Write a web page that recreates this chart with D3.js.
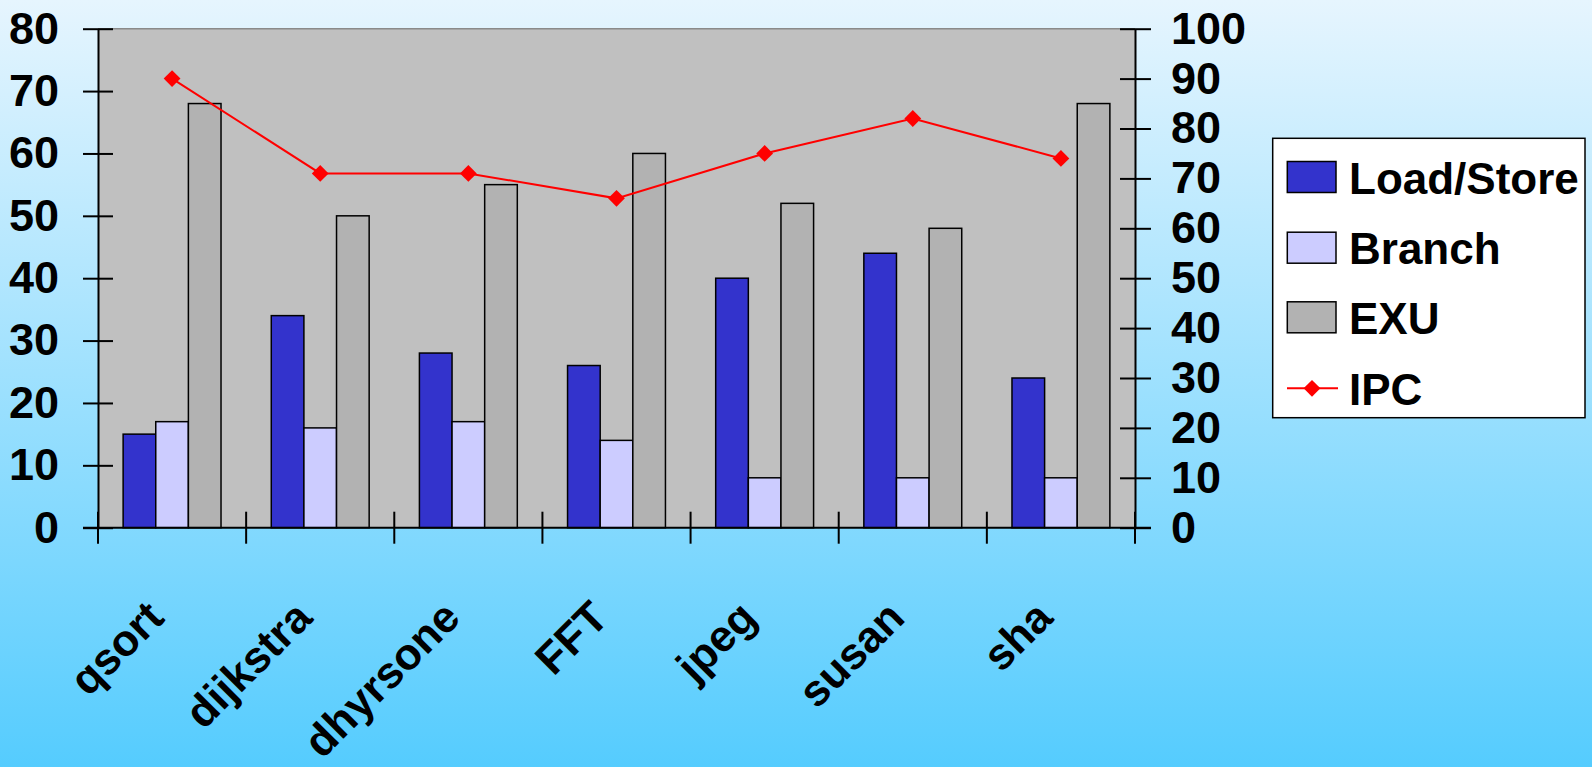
<!DOCTYPE html>
<html>
<head>
<meta charset="utf-8">
<script src="https://cdn.jsdelivr.net/npm/d3@7"></script>
<style>
  html, body { margin: 0; padding: 0; overflow: hidden; }
  svg { display: block; font-family: "Liberation Sans", Arial, sans-serif; font-weight: bold; }
</style>
</head>
<body>
<div class="chart"></div>
<script>
'use strict'

// Data.
const categories = ['qsort', 'dijkstra', 'dhyrsone', 'FFT', 'jpeg', 'susan', 'sha'];
const loadStore = [15, 34, 28, 26, 40, 44, 24];
const branch = [17, 16, 17, 14, 8, 8, 8];
const exu = [68, 50, 55, 60, 52, 48, 68];
const ipc = [90, 71, 71, 66, 75, 82, 74];
const leftTicks = [0, 10, 20, 30, 40, 50, 60, 70, 80];
const rightTicks = [0, 10, 20, 30, 40, 50, 60, 70, 80, 90, 100];
const seriesNames = ['Load/Store', 'Branch', 'EXU'];
const seriesColors = ['#3333cc', '#ccccff', '#b2b2b2'];

// Dimensions
const width = 1592,
    height = 767,
    plot = {left: 98, right: 1135, top: 28.7, bottom: 527.7},
    fontSize = 45;

const svg = d3.select('.chart')
    .append('svg')
        .attr('width', width)
        .attr('height', height);

// Background gradient.
const grad = svg.append('defs')
    .append('linearGradient')
        .attr('id', 'bg')
        .attr('x1', 0).attr('y1', 0)
        .attr('x2', 0).attr('y2', 1);
grad.append('stop').attr('offset', '0%').attr('stop-color', '#e6f5fe');
grad.append('stop').attr('offset', '100%').attr('stop-color', '#55ccfe');

svg.append('rect')
    .attr('width', width)
    .attr('height', height)
    .attr('fill', 'url(#bg)');

// Scales.
let x = d3.scaleBand()
    .domain(categories)
    .range([plot.left, plot.right]);

let x1 = d3.scaleBand()
    .domain(seriesNames)
    .range([0, x.bandwidth()])
    .paddingOuter(0.77);

let yL = d3.scaleLinear()
    .domain([0, 80])
    .range([plot.bottom, plot.top]);

let yR = d3.scaleLinear()
    .domain([0, 100])
    .range([plot.bottom, plot.top]);

// Plot area.
svg.append('rect')
    .attr('x', plot.left)
    .attr('y', plot.top)
    .attr('width', plot.right - plot.left)
    .attr('height', plot.bottom - plot.top)
    .attr('fill', '#c0c0c0');

svg.append('line')
    .attr('x1', plot.left).attr('x2', plot.right)
    .attr('y1', plot.top).attr('y2', plot.top)
    .attr('stroke', '#8a8a8a')
    .attr('stroke-width', 1.5);

// Bars.
const rows = categories.map((c, i) => ({
    category: c,
    values: [loadStore[i], branch[i], exu[i]]
}));

svg.append('g')
    .attr('class', 'bars')
    .selectAll('g')
    .data(rows)
    .join('g')
        .attr('transform', d => `translate(${x(d.category)},0)`)
    .selectAll('rect')
    .data(d => d.values.map((v, j) => ({key: seriesNames[j], value: v, color: seriesColors[j]})))
    .join('rect')
        .attr('x', d => x1(d.key))
        .attr('y', d => yL(d.value))
        .attr('width', x1.bandwidth())
        .attr('height', d => yL(0) - yL(d.value))
        .attr('fill', d => d.color)
        .attr('stroke', '#000')
        .attr('stroke-width', 1.5);

// Left axis.
svg.append('g')
    .attr('transform', `translate(${plot.left},0)`)
    .call(d3.axisLeft(yL).tickValues(leftTicks).tickSizeOuter(0).tickPadding(0))
    .call(g => g.select('.domain').attr('stroke', '#000').attr('stroke-width', 2))
    .call(g => g.selectAll('.tick line')
        .attr('x1', -15).attr('x2', 15)
        .attr('stroke-width', 2))
    .call(g => g.selectAll('.tick text')
        .attr('x', -39)
        .attr('font-size', fontSize)
        .attr('font-family', '"Liberation Sans", Arial, sans-serif')
        .attr('font-weight', 'bold')
        .attr('fill', '#000'));

// Right axis.
svg.append('g')
    .attr('transform', `translate(${plot.right},0)`)
    .call(d3.axisRight(yR).tickValues(rightTicks).tickSizeOuter(0).tickPadding(0))
    .call(g => g.select('.domain').attr('stroke', '#000').attr('stroke-width', 2))
    .call(g => g.selectAll('.tick line')
        .attr('x1', -15).attr('x2', 16)
        .attr('stroke-width', 2))
    .call(g => g.selectAll('.tick text')
        .attr('x', 36)
        .attr('font-size', fontSize)
        .attr('font-family', '"Liberation Sans", Arial, sans-serif')
        .attr('font-weight', 'bold')
        .attr('fill', '#000'));

// Bottom axis: ticks sit on category boundaries.
const bounds = categories.map(c => x(c)).concat([plot.right]);
const xAxis = svg.append('g').attr('class', 'x-axis');

xAxis.append('line')
    .attr('x1', plot.left - 15).attr('x2', plot.right + 16)
    .attr('y1', yL(0)).attr('y2', yL(0))
    .attr('stroke', '#000')
    .attr('stroke-width', 2);

xAxis.selectAll('line.tick')
    .data(bounds)
    .join('line')
        .attr('class', 'tick')
        .attr('x1', d => d).attr('x2', d => d)
        .attr('y1', yL(0) - 16).attr('y2', yL(0) + 16)
        .attr('stroke', '#000')
        .attr('stroke-width', 2);

xAxis.selectAll('text')
    .data(categories)
    .join('text')
        .attr('text-anchor', 'end')
        .attr('font-size', 44)
        .attr('transform', d => `translate(${x(d) + x.bandwidth() / 2 - 6},${620}) rotate(-45)`)
        .text(d => d);

// IPC line.
const line = d3.line()
    .x((d, i) => x(categories[i]) + x.bandwidth() / 2)
    .y(d => yR(d));

svg.append('path')
    .datum(ipc)
    .attr('fill', 'none')
    .attr('stroke', '#ff0000')
    .attr('stroke-width', 2)
    .attr('d', line);

const diamond = d3.symbol().type(d3.symbolDiamond2).size(180);

svg.append('g')
    .selectAll('path')
    .data(ipc)
    .join('path')
        .attr('transform', (d, i) => `translate(${x(categories[i]) + x.bandwidth() / 2},${yR(d)})`)
        .attr('d', diamond)
        .attr('fill', '#ff0000');

// Legend.
const legend = svg.append('g').attr('class', 'legend');

legend.append('rect')
    .attr('x', 1272.7)
    .attr('y', 138.3)
    .attr('width', 312.3)
    .attr('height', 279.4)
    .attr('fill', '#fff')
    .attr('stroke', '#000')
    .attr('stroke-width', 1.5);

const legendRows = [177, 247.7, 317.3, 388.3];

legend.selectAll('rect.swatch')
    .data(seriesNames)
    .join('rect')
        .attr('class', 'swatch')
        .attr('x', 1287.3)
        .attr('y', (d, i) => legendRows[i] - 15.5)
        .attr('width', 48.7)
        .attr('height', 31)
        .attr('fill', (d, i) => seriesColors[i])
        .attr('stroke', '#000')
        .attr('stroke-width', 1.5);

legend.append('line')
    .attr('x1', 1287).attr('x2', 1338)
    .attr('y1', legendRows[3]).attr('y2', legendRows[3])
    .attr('stroke', '#ff0000')
    .attr('stroke-width', 2);

legend.append('path')
    .attr('transform', `translate(1312,${legendRows[3]})`)
    .attr('d', diamond)
    .attr('fill', '#ff0000');

legend.selectAll('text')
    .data(seriesNames.concat(['IPC']))
    .join('text')
        .attr('x', 1349)
        .attr('y', (d, i) => legendRows[i] + 16.5)
        .attr('font-size', 44)
        .text(d => d);
</script>
</body>
</html>
